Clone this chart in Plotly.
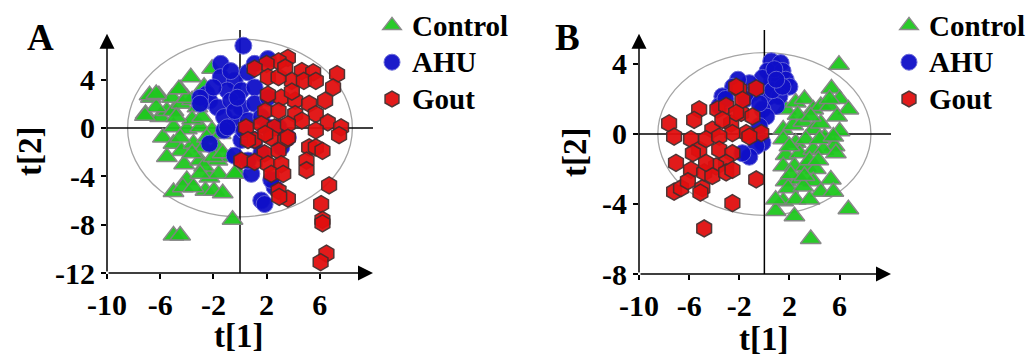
import plotly.graph_objects as go

# ---------------- Panel A data ----------------
a_ctrl_x = [-7.1, -6.7, -6.1, -5.1, -4.5, -3.7, -2.1, -6.0, -5.5, -5.0, -4.4, -3.6, -3.2, -5.8, -5.0, -4.0,
            -3.0, -2.1, -1.45, -5.0, -4.4, -3.5, -2.7, -1.7, -5.5, -4.2, -3.0, -1.7, -0.7, -4.0, -2.3, -1.6,
            -0.2, -5.0, -4.3, -2.6, -1.96, -1.3, -0.4, -0.56, -5.0, -4.5, -3.5, -2.7, -3.6, -2.85, -6.3,
            -4.5, -2.5, -2.0, -3.0, -4.8, -4.0, -2.7, -3.6, -1.3, -6.8, -6.3, -4.6, -7.15]
a_ctrl_y = [1.15, 2.5, 2.7, 2.5, 3.2, 4.2, 4.9, 0.9, 1.4, 1.4, 2.0, 2.3, 1.7, -0.8, 0.05, -0.1,
            0.05, -0.2, -0.5, -1.3, -1.9, -1.3, -1.6, -1.6, -2.4, -3.0, -2.7, -2.7, -2.4, -4.3, -4.1, -3.8,
            -3.7, -5.3, -4.9, -5.2, -5.2, -5.4, -3.8, -7.6, -8.9, -8.9, -4.9, -3.2, 0.7, 0.9, 1.7,
            -0.8, -0.8, -2.4, -3.8, 0.9, 2.5, 3.4, -2.1, -2.1, 2.7, 2.8, 3.2, 1.0]

a_ahu_x = [0.25, -1.45, -2.5, -2.3, -2.3, 1.6, 1.85, -0.4, -1.45, -0.4, 0.6, 1.1, 2.1, -0.95, 0.1, 1.1,
           -1.7, -0.7, 0.1, 1.1, 2.1, -1.2, -0.4, 0.6, 1.6, 0.1, 1.1, 3.6, 0.85, 2.6, 2.35, -2.0,
           -0.4, -1.2, 0.3, 2.1, 1.6, 0.6, -3.0, -3.0, 3.1, 2.9, -0.7, -0.95, -0.2]
a_ahu_y = [6.8, 5.3, 2.8, 2.25, -1.3, -6.0, -6.3, -2.3, 4.2, 3.9, 4.6, 5.3, 5.7, 3.1, 3.1, 3.35,
           1.7, 2.25, 1.7, 2.0, 2.5, 0.9, 0.3, 0.6, 0.9, -1.0, -1.0, -0.8, -3.8, -4.9, -4.3, 3.35,
           1.4, -0.2, -0.2, 0.05, -2.1, -2.7, 2.5, 2.0, -1.6, 0.05, 4.7, 0.05, 2.5]

a_gout_x = [3.6, 2.9, 2.0, 1.1, 7.3, 4.65, 5.5, 3.9, 4.8, 5.7, 2.1, 2.9, 7.0, 6.4, 3.1, 4.15, 5.2,
            1.9, 2.9, 4.15, 5.7, 4.65, 6.6, 7.6, 7.45, 0.45, 1.6, 2.6, 3.6, 1.1, 2.35, 3.4, 1.85,
            2.9, 5.2, 5.7, 6.2, 5.0, 5.0, 0.1, 1.1, 2.1, 3.1, 2.35, 3.25, 2.9, 3.6, 2.95, 6.7,
            6.1, 6.2, 6.2, 6.5, 6.06, 0.6, 1.9, 5.7, 3.9, 3.4, 2.1, 3.6]
a_gout_y = [5.8, 5.5, 5.3, 4.9, 4.45, 4.7, 4.6, 3.9, 3.9, 3.9, 4.2, 4.2, 3.35, 2.25, 2.5, 2.25, 2.0,
            1.4, 1.4, 1.15, 1.15, 0.6, 0.45, 0.05, -0.6, 0.05, 0.3, 0.05, 0.3, -1.0, -0.8, -1.0, -2.1,
            -1.9, -1.6, -1.6, -1.9, -2.7, -3.5, -2.7, -2.8, -3.0, -3.0, -3.8, -3.8, -5.2, -5.85, -5.7, -4.75,
            -6.3, -7.6, -7.9, -10.4, -11.1, -1.0, -0.5, -0.2, 3.0, 5.0, 2.75, -0.8]

# ---------------- Panel B data ----------------
b_ctrl_x = [5.95, 5.35, 6.0, 6.7, 1.7, 2.5, 3.2, 3.9, 4.5, 5.2, 5.8, 1.5, 2.3, 3.1, 3.9, 4.5, 6.0,
            1.5, 2.5, 3.3, 4.8, 5.6, 1.7, 2.8, 3.9, 4.7, 5.7, 1.5, 2.4, 3.3, 4.1, 1.7, 2.8, 3.9,
            5.3, 1.9, 3.1, 4.5, 5.5, 1.5, 2.5, 3.6, 0.9, 2.4, 6.7, 3.7, 2.1, 3.6, 4.3, 2.65, 3.7,
            5.2, 4.4, 5.5, 2.0, 3.2, 0.9]
b_ctrl_y = [3.96, 2.6, 2.0, 1.4, 1.4, 1.8, 2.0, 1.4, 1.6, 1.6, 1.0, 0.25, 0.5, 0.7, 0.25, 0.6, 0.15,
            -0.3, -0.5, -0.3, -0.2, -0.7, -1.2, -1.1, -0.9, -0.9, -1.1, -1.85, -1.85, -1.85, -2.0, -2.7, -2.6, -2.7,
            -2.6, -3.1, -3.0, -3.3, -3.3, -3.85, -3.75, -3.75, -4.4, -4.7, -4.3, -6.0, -2.3, -1.5, -1.5, 1.1, 1.0,
            2.0, -0.3, -0.15, -0.7, -2.4, -3.75]

b_ahu_x = [0.55, 1.3, 0.25, 1.45, 1.7, 2.0, 0.65, -0.15, -1.2, -2.1, -2.5, -3.35, -3.6, -3.1, -0.95, 0.4,
           1.2, 0.95, -0.15, 0.15, -0.4, -0.15, -0.65, -1.2, -1.75, -0.65, 0.8, 0.65, -1.5, -0.4, 1.45, 0.95]
b_ahu_y = [4.15, 4.05, 3.6, 3.6, 3.1, 2.7, 2.9, 3.2, 2.9, 3.1, 2.7, 2.15, 1.6, 2.0, 2.35, 2.15,
           2.15, 1.6, 1.4, 1.0, 0.45, -0.5, -0.7, -1.3, -1.1, 2.5, 3.7, 2.5, 2.0, 1.75, 2.7, 3.1]

b_gout_x = [-7.6, -7.2, -7.05, -7.2, -6.65, -5.85, -6.1, -4.95, -5.1, -4.8, -2.55, -0.65, -5.2, -5.6, -4.15,
            -5.85, -5.2, -5.7, -4.65, -3.75, -3.05, -2.0, -0.65, -2.25, -2.65, -1.85, -0.95, -0.25, -1.45,
            -2.55, -3.6, -3.6, -2.55, -3.05, -3.85, -4.8, -4.15, -3.05, -2.55, -4.65, -1.2, -1.75, -2.25, -3.35]
b_gout_y = [0.6, -0.15, -1.65, -3.3, -3.1, -2.05, -2.7, -3.1, -3.35, -5.4, -3.95, -2.6, 1.4, 0.8, 0.25,
            -0.3, -0.9, -1.1, -0.3, 1.4, 1.6, 2.55, 2.6, 2.7, 0.6, 1.2, 1.0, 0.05, 0.05,
            0.05, -0.15, -0.9, -1.1, -1.65, -1.85, -2.2, -2.4, -2.2, -2.05, -1.65, -0.15, 1.95, 1.2, 0.8]

group_names = ["Control", "AHU", "Gout"]
a_xticks = [-10, -6, -2, 2, 6]
a_xlabels = ["-10", "-6", "-2", "2", "6"]
a_yticks = [4, 0, -4, -8, -12]
a_ylabels = ["4", "0", "-4", "-8", "-12"]
b_xticks = [-10, -6, -2, 2, 6]
b_xlabels = ["-10", "-6", "-2", "2", "6"]
b_yticks = [4, 0, -4, -8]
b_ylabels = ["4", "0", "-4", "-8"]

SERIF = "Liberation Serif"
styles = {
    "Control": dict(symbol="triangle-up", color="rgb(30,200,30)", line=dict(color="rgb(130,130,130)", width=1.5), size=18),
    "AHU": dict(symbol="circle", color="rgb(15,15,200)", line=dict(color="rgb(100,100,215)", width=1), size=17),
    "Gout": dict(symbol="hexagon", color="rgb(225,15,15)", line=dict(color="rgb(70,45,45)", width=1.5), size=17),
}

fig = go.Figure()

def add_panel(data, xa, ya, legend_name):
    for name, (xs, ys) in zip(group_names, data):
        st = styles[name]
        fig.add_trace(go.Scatter(
            x=xs, y=ys, mode="markers",
            name="<span style='font-size:29px'>" + name + "</span>",
            xaxis=xa, yaxis=ya,
            legend=legend_name, legendgroup=legend_name + name, showlegend=True,
            marker=dict(symbol=st["symbol"], color=st["color"], size=st["size"], line=st["line"], opacity=0.95),
        ))

add_panel([(a_ctrl_x, a_ctrl_y), (a_ahu_x, a_ahu_y), (a_gout_x, a_gout_y)], "x", "y", "legend")
add_panel([(b_ctrl_x, b_ctrl_y), (b_ahu_x, b_ahu_y), (b_gout_x, b_gout_y)], "x2", "y2", "legend2")

W, H = 1035, 357
def px_x(p):
    return p / W
def px_y(p):
    return 1 - p / H

tickfont = dict(family=SERIF, size=30, color="black", weight="bold")
axis_common = dict(showgrid=False, zeroline=False, showline=False, ticks="outside", ticklen=5,
                   tickwidth=1.5, tickcolor="black", tickfont=tickfont, fixedrange=True, automargin=False)

a_xr = [-10, 10]
a_yr = [-12, 8.1]
b_xr = [-10, 10.1]
b_yr = [-8, 5.94]

legend_font = dict(family=SERIF, size=26, color="black", weight="bold")
fig.update_layout(
    width=W, height=H, margin=dict(l=0, r=0, t=0, b=0, autoexpand=False),
    paper_bgcolor="white", plot_bgcolor="white",
    xaxis=dict(domain=[px_x(107), px_x(373)], range=a_xr, tickvals=a_xticks, ticktext=a_xlabels, anchor="y", **axis_common),
    yaxis=dict(domain=[px_y(273), px_y(30)], range=a_yr, tickvals=a_yticks, ticktext=a_ylabels, anchor="x", **axis_common),
    xaxis2=dict(domain=[px_x(639), px_x(891)], range=b_xr, tickvals=b_xticks, ticktext=b_xlabels, anchor="y2", **axis_common),
    yaxis2=dict(domain=[px_y(274), px_y(30)], range=b_yr, tickvals=b_yticks, ticktext=b_ylabels, anchor="x2", **axis_common),
    legend=dict(x=px_x(372), y=px_y(2), xanchor="left", yanchor="top", traceorder="grouped", tracegroupgap=0,
                font=legend_font, bgcolor="rgba(0,0,0,0)", itemsizing="trace"),
    legend2=dict(x=px_x(889), y=px_y(2), xanchor="left", yanchor="top", traceorder="grouped", tracegroupgap=0,
                 font=legend_font, bgcolor="rgba(0,0,0,0)", itemsizing="trace"),
    showlegend=True,
)

shapes = []
annotations = []
for xr_, yr_, xref, yref, ell in [(a_xr, a_yr, "x", "y", (8.45, 7.35)), (b_xr, b_yr, "x2", "y2", (8.5, 4.65))]:
    shapes.append(dict(type="circle", xref=xref, yref=yref, x0=-ell[0], x1=ell[0], y0=-ell[1], y1=ell[1],
                       line=dict(color="rgb(165,165,165)", width=1.3), layer="below"))
    shapes.append(dict(type="line", xref=xref, yref=yref, x0=0, x1=0, y0=yr_[0], y1=yr_[1],
                       line=dict(color="black", width=1.5), layer="below"))
    shapes.append(dict(type="line", xref=xref, yref=yref, x0=xr_[0], x1=xr_[1], y0=0, y1=0,
                       line=dict(color="black", width=1.5), layer="below"))
    annotations.append(dict(xref=xref, yref=yref, axref=xref, ayref=yref, x=xr_[1], y=yr_[0],
                            ax=xr_[0], ay=yr_[0], text="", showarrow=True, arrowhead=2, arrowsize=2,
                            arrowwidth=1.5, arrowcolor="black"))
    top = yr_[0] + (yr_[1] - yr_[0]) * 0.985
    annotations.append(dict(xref=xref, yref=yref, axref=xref, ayref=yref, x=xr_[0], y=top,
                            ax=xr_[0], ay=yr_[0], text="", showarrow=True, arrowhead=2, arrowsize=2,
                            arrowwidth=1.5, arrowcolor="black"))

title_font = dict(family=SERIF, size=33, color="black", weight="bold")
letter_font = dict(family=SERIF, size=37, color="black", weight="bold")
for txt, x, y, ang, f in [("A", 40, 38, 0, letter_font), ("B", 567, 38, 0, letter_font),
                          ("t[2]", 30, 152, -90, title_font), ("t[1]", 238, 336, 0, title_font),
                          ("t[2]", 575, 153, -90, title_font), ("t[1]", 763, 339, 0, title_font)]:
    annotations.append(dict(xref="paper", yref="paper", x=px_x(x), y=px_y(y), text=txt, textangle=ang,
                            showarrow=False, font=f, xanchor="center", yanchor="middle"))

fig.update_layout(shapes=shapes, annotations=annotations)
fig.write_html("out.html", config={"displayModeBar": False},
               post_script="document.body.style.margin='0px'; document.body.style.overflow='hidden';")
